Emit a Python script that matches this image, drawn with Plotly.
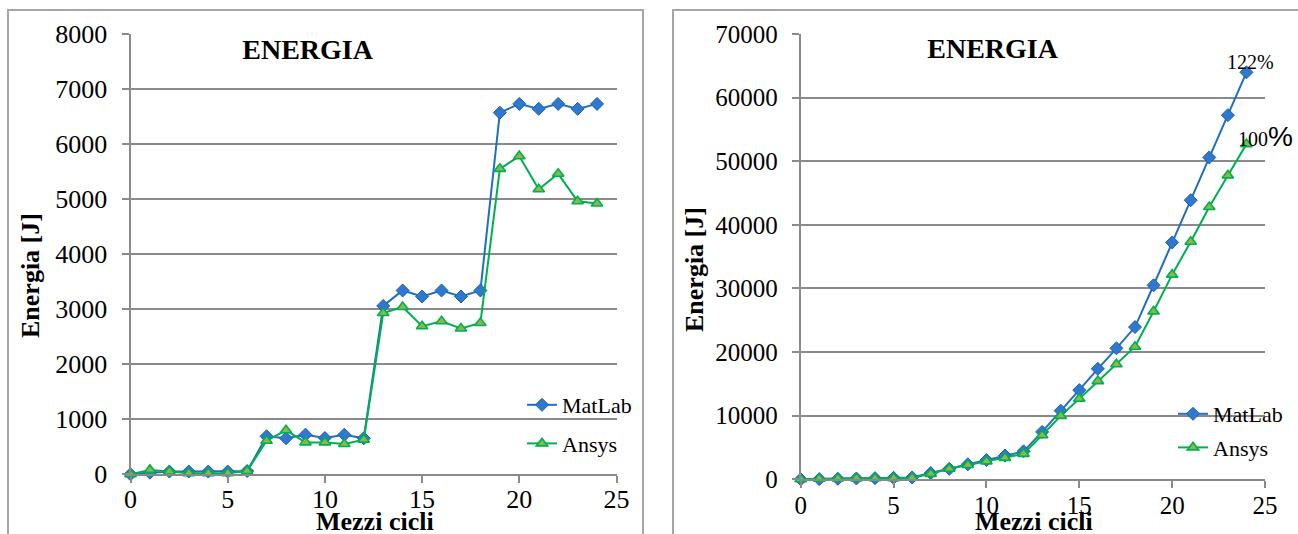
import plotly.graph_objects as go

# Half-cycle index
half_cycles = list(range(25))

# Energy per half-cycle [J]
matlab_half = [0, 30, 50, 50, 50, 50, 60, 690, 655, 720, 660, 720, 655,
               3060, 3340, 3230, 3340, 3230, 3340, 6570, 6730, 6640, 6730, 6640, 6730]
ansys_half = [0, 80, 50, 20, 20, 20, 60, 610, 800, 580, 580, 550, 630,
              2930, 3040, 2690, 2780, 2650, 2750, 5550, 5780, 5180, 5460, 4960, 4920]

# Accumulated energy [J]
matlab_total = [0, 30, 80, 130, 180, 230, 290, 980, 1640, 2360, 3020, 3740, 4390,
                7450, 10790, 14020, 17360, 20590, 23930, 30500, 37230, 43870, 50600, 57240, 63970]
ansys_total = [0, 80, 130, 150, 170, 190, 250, 860, 1660, 2240, 2820, 3370, 4000,
               6930, 9970, 12660, 15440, 18090, 20840, 26390, 32170, 37350, 42810, 47770, 52690]

end_labels = ["122%", "100%"]

W, H = 1298, 534
SERIF = "Liberation Serif, Times New Roman, serif"
GRID = "#8a8a8a"
BLUE = "#1F6FC5"
GREEN = "#00B050"


def fx(p):
    return p / W


def fy(p):
    return 1 - p / H


matlab_style = dict(mode="lines+markers", line=dict(color=BLUE, width=2),
                    marker=dict(symbol="diamond", size=10, color="#2E78CF",
                                line=dict(color="#1A5FAE", width=1)),
                    cliponaxis=False)
ansys_style = dict(mode="lines+markers", line=dict(color=GREEN, width=2),
                   marker=dict(symbol="triangle-up", size=10, color="#8DB849",
                               line=dict(color=GREEN, width=1.6)),
                   cliponaxis=False)

fig = go.Figure()
fig.add_trace(go.Scatter(x=half_cycles, y=matlab_half, name="MatLab", xaxis="x", yaxis="y",
                         legend="legend", legendgroup="a", **matlab_style))
fig.add_trace(go.Scatter(x=half_cycles, y=ansys_half, name="Ansys", xaxis="x", yaxis="y",
                         legend="legend", legendgroup="b", **ansys_style))
fig.add_trace(go.Scatter(x=half_cycles, y=matlab_total, name="MatLab", xaxis="x2", yaxis="y2",
                         legend="legend2", legendgroup="c", **matlab_style))
fig.add_trace(go.Scatter(x=half_cycles, y=ansys_total, name="Ansys", xaxis="x2", yaxis="y2",
                         legend="legend2", legendgroup="d", **ansys_style))

xcommon = dict(range=[0, 25], dtick=5, tick0=0, showgrid=False, showline=True,
               linecolor=GRID, linewidth=2, ticks="outside", ticklen=7, tickwidth=2,
               tickcolor=GRID, zeroline=False, automargin=False, fixedrange=True)
ycommon = dict(showgrid=True, gridcolor=GRID, gridwidth=2, showline=True,
               linecolor=GRID, linewidth=2, ticks="outside", ticklen=7, tickwidth=2,
               tickcolor=GRID, zeroline=False, automargin=False, tickformat="d",
               ticklabelstandoff=9, fixedrange=True)

fig.update_layout(
    width=W, height=H,
    template="none",
    paper_bgcolor="white", plot_bgcolor="white",
    margin=dict(l=0, r=0, t=0, b=0),
    font=dict(family=SERIF, color="black"),
    xaxis=dict(domain=[fx(130.5), fx(616.5)], anchor="y", ticklabelstandoff=-7,
               tickfont=dict(size=26, family=SERIF, color="black"), **xcommon),
    yaxis=dict(domain=[fy(474.3), fy(34)], anchor="x", range=[0, 8000], dtick=1000,
               tickfont=dict(size=26, family=SERIF, color="black"), **ycommon),
    xaxis2=dict(domain=[fx(800.7), fx(1265)], anchor="y2", ticklabelstandoff=-4,
                tickfont=dict(size=25, family=SERIF, color="black"), **xcommon),
    yaxis2=dict(domain=[fy(479.3), fy(34)], anchor="x2", range=[0, 70000], dtick=10000,
                tickfont=dict(size=25, family=SERIF, color="black"), **ycommon),
    legend=dict(x=fx(522), y=fy(384), xanchor="left", yanchor="top",
                bgcolor="rgba(0,0,0,0)", font=dict(size=22, family=SERIF),
                tracegroupgap=7, traceorder="grouped"),
    legend2=dict(x=fx(1173), y=fy(393), xanchor="left", yanchor="top",
                 bgcolor="rgba(0,0,0,0)", font=dict(size=22, family=SERIF),
                 tracegroupgap=2, traceorder="grouped"),
    showlegend=True,
)

# Chart frames
for x0, x1 in [(8, 643), (673, 1310)]:
    fig.add_shape(type="rect", xref="paper", yref="paper",
                  x0=fx(x0), x1=fx(x1), y0=fy(545), y1=fy(10),
                  line=dict(color="#a6a6a6", width=2), fillcolor="rgba(0,0,0,0)",
                  layer="below")

annotations = []
# Chart titles on white boxes over the top gridline
for cx, cy in [(308, 49), (993, 48)]:
    annotations.append(dict(text="<b>ENERGIA</b>", xref="paper", yref="paper",
                            x=fx(cx), y=fy(cy), xanchor="center", yanchor="middle",
                            showarrow=False, bgcolor="white", width=154, height=38,
                            borderpad=0, font=dict(size=28, family=SERIF, color="black")))
# Axis titles
for cx, cy in [(375, 521), (1034, 521)]:
    annotations.append(dict(text="<b>Mezzi cicli</b>", xref="paper", yref="paper",
                            x=fx(cx), y=fy(cy), xanchor="center", yanchor="middle",
                            showarrow=False, font=dict(size=26, family=SERIF, color="black")))
for cx, cy in [(30, 276), (694, 270)]:
    annotations.append(dict(text="<b>Energia [J]</b>", xref="paper", yref="paper",
                            x=fx(cx), y=fy(cy), xanchor="center", yanchor="middle",
                            textangle=-90, showarrow=False,
                            font=dict(size=26, family=SERIF, color="black")))
# End-point ratio labels
annotations.append(dict(text=end_labels[0], xref="x2", yref="y2",
                        x=half_cycles[-1], y=matlab_total[-1], xanchor="center",
                        yanchor="middle", xshift=4, yshift=10, showarrow=False,
                        font=dict(size=20, family=SERIF, color="black")))
annotations.append(dict(text=end_labels[1][:-1] +
                        "<span style='font-size:28px;font-family:Liberation Sans'>%</span>",
                        xref="x2", yref="y2",
                        x=half_cycles[-1], y=ansys_total[-1], xanchor="left",
                        yanchor="middle", xshift=-10, yshift=8, showarrow=False,
                        font=dict(size=20, family=SERIF, color="black")))
fig.update_layout(annotations=annotations)

fig.write_html("out.html")
